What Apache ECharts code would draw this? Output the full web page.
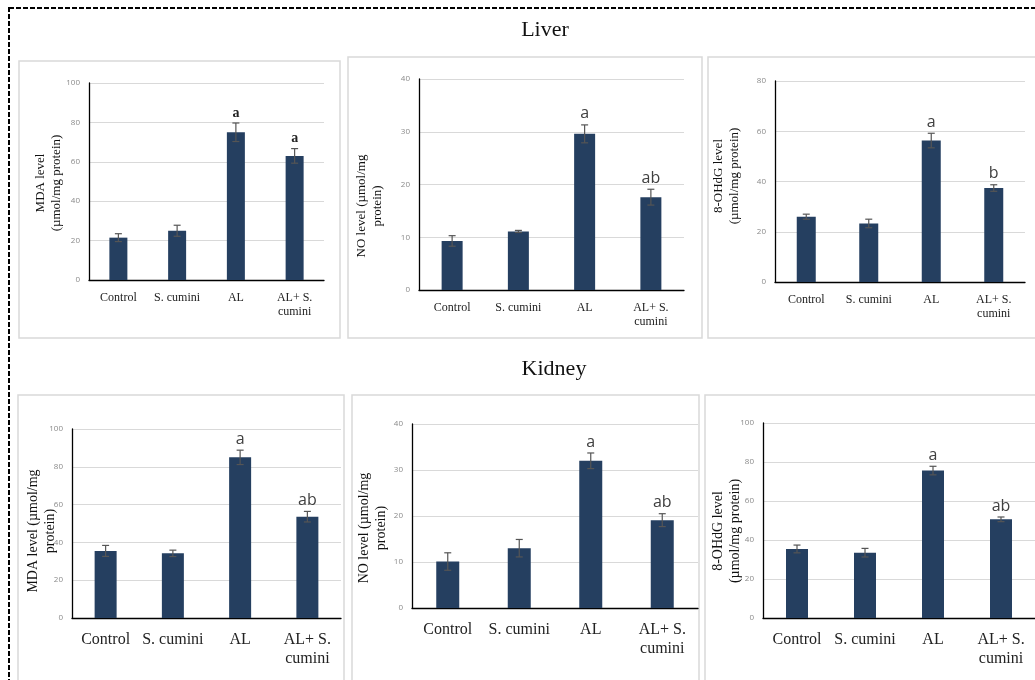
<!DOCTYPE html>
<html><head><meta charset="utf-8">
<script src="https://cdn.jsdelivr.net/npm/echarts@6/dist/echarts.min.js"></script>
<style>html,body{margin:0;padding:0;background:#fff}#c{width:1035px;height:680px}</style>
</head><body><div id="c"></div>
<script>
const categories = ['Control', 'S. cumini', 'AL', 'AL+ S.\ncumini'];

const liverMDA = [21.5, 25, 75, 63];
const liverMDAErr = [2, 2.8, 4.7, 3.7];
const liverMDALetters = ['', '', 'a', 'a'];

const liverNO = [9.3, 11.1, 29.6, 17.6];
const liverNOErr = [1, 0.2, 1.7, 1.5];
const liverNOLetters = ['', '', 'a', 'ab'];

const liverOHdG = [26, 23.3, 56.3, 37.4];
const liverOHdGErr = [1, 1.7, 2.9, 1.3];
const liverOHdGLetters = ['', '', 'a', 'b'];

const kidneyMDA = [35.5, 34.2, 85, 53.6];
const kidneyMDAErr = [2.9, 1.7, 3.8, 2.8];
const kidneyMDALetters = ['', '', 'a', 'ab'];

const kidneyNO = [10.1, 13, 32, 19.1];
const kidneyNOErr = [1.9, 1.9, 1.7, 1.4];
const kidneyNOLetters = ['', '', 'a', 'ab'];

const kidneyOHdG = [35.4, 33.5, 75.6, 50.6];
const kidneyOHdGErr = [2, 2.2, 2.2, 1.2];
const kidneyOHdGLetters = ['', '', 'a', 'ab'];

const yMaxes = [100, 40, 80, 100, 40, 100];
const yIntervals = [20, 10, 20, 20, 10, 20];
const yNames = [
  'MDA level\n(µmol/mg protein)',
  'NO level (µmol/mg\nprotein)',
  '8-OHdG level\n(µmol/mg protein)',
  'MDA level (µmol/mg\nprotein)',
  'NO level (µmol/mg\nprotein)',
  '8-OHdG level\n(µmol/mg protein)'
];
const sectionTitles = ['Liver', 'Kidney'];

const panels = [
  {vals: liverMDA, errs: liverMDAErr, letters: liverMDALetters},
  {vals: liverNO, errs: liverNOErr, letters: liverNOLetters},
  {vals: liverOHdG, errs: liverOHdGErr, letters: liverOHdGLetters},
  {vals: kidneyMDA, errs: kidneyMDAErr, letters: kidneyMDALetters},
  {vals: kidneyNO, errs: kidneyNOErr, letters: kidneyNOLetters},
  {vals: kidneyOHdG, errs: kidneyOHdGErr, letters: kidneyOHdGLetters}
];

// layout (styles/positions)
const grids = [
  {left: 89, top: 83, width: 235, height: 197},
  {left: 419, top: 79, width: 265, height: 211},
  {left: 775, top: 81, width: 250, height: 201},
  {left: 72, top: 429, width: 269, height: 189},
  {left: 412, top: 424, width: 286, height: 184},
  {left: 763, top: 423, width: 282, height: 195}
];
const barWidths = [18, 21, 19, 22, 23, 22];
const catFont = [12, 12, 12, 16, 16, 16];
const catLH = [14, 14, 14, 19, 19, 19];
const catMargin = [11, 11, 11, 12, 12, 12];
const letterFont = [14, 16, 16, 16, 16, 16];
const letterBold = [true, false, false, false, false, false];
const nameFont = [13, 13, 13, 14, 14, 14];
const namePos = [[49, 183], [370, 206], [727, 176], [42, 531], [373, 528], [727, 531]];
const boxes = [
  [19, 61, 321, 277], [348, 57, 354, 281], [708, 57, 400, 281],
  [18, 395, 326, 400], [352, 395, 347, 400], [705, 395, 400, 400]
];
const BAR = '#253f60';
const SERIF = '"Liberation Serif", "DejaVu Serif", serif';
const SANS = '"Open Sans", "Noto Sans", sans-serif';

const chart = echarts.init(document.getElementById('c'), null, {renderer: 'canvas'});

const xAxis = [], yAxis = [], series = [];
panels.forEach((p, k) => {
  xAxis.push({
    type: 'category', gridIndex: k, data: categories,
    axisLine: {lineStyle: {color: '#000', width: 1.3}},
    axisTick: {show: false},
    axisLabel: {fontFamily: SERIF, fontSize: catFont[k], color: '#222', margin: catMargin[k],
      lineHeight: catLH[k], interval: 0}
  });
  yAxis.push({
    type: 'value', gridIndex: k, min: 0, max: yMaxes[k], interval: yIntervals[k],
    axisLine: {show: true, lineStyle: {color: '#000', width: 1.3}},
    axisTick: {show: false},
    splitLine: {lineStyle: {color: '#d9d9d9', width: 1}},
    axisLabel: {fontFamily: SANS, fontSize: 8, color: '#8a8a8a', margin: 9}
  });
  series.push({
    type: 'bar', xAxisIndex: k, yAxisIndex: k, data: p.vals,
    barWidth: barWidths[k], itemStyle: {color: BAR}, silent: true, animation: false
  });
  series.push({
    type: 'custom', xAxisIndex: k, yAxisIndex: k, animation: false, silent: true, z: 5,
    data: p.vals.map((v, i) => [i, v, p.errs[i]]),
    renderItem: function (params, api) {
      const i = api.value(0), v = api.value(1), e = api.value(2);
      const hi = api.coord([i, v + e]);
      const lo = api.coord([i, v - e]);
      const cap = 3.5;
      const st = {stroke: '#555', lineWidth: 1.2};
      const children = [
        {type: 'line', shape: {x1: hi[0], y1: hi[1], x2: lo[0], y2: lo[1]}, style: st},
        {type: 'line', shape: {x1: hi[0] - cap, y1: hi[1], x2: hi[0] + cap, y2: hi[1]}, style: st},
        {type: 'line', shape: {x1: lo[0] - cap, y1: lo[1], x2: lo[0] + cap, y2: lo[1]}, style: st}
      ];
      const letter = p.letters[params.dataIndex];
      if (letter) {
        children.push({
          type: 'text', x: hi[0], y: hi[1] - 3,
          style: {text: letter, align: 'center', verticalAlign: 'bottom',
            font: (letterBold[k] ? 'bold ' : '') + letterFont[k] + 'px ' + (letterBold[k] ? SERIF : SANS),
            fill: letterBold[k] ? '#222' : '#404040'}
        });
      }
      return {type: 'group', children: children};
    }
  });
});

const graphic = [];
graphic.push({type: 'rect', shape: {x: 9, y: 8, width: 1200, height: 1000},
  style: {fill: 'none', stroke: '#000', lineWidth: 2, lineDash: [5, 2]}, z: 0});
boxes.forEach(b => graphic.push({type: 'rect', shape: {x: b[0], y: b[1], width: b[2], height: b[3]},
  style: {fill: 'none', stroke: '#d9d9d9', lineWidth: 1.5}, z: 0}));
graphic.push({type: 'text', x: 545, y: 30, style: {text: sectionTitles[0], align: 'center', verticalAlign: 'middle',
  font: '22px ' + SERIF, fill: '#111'}});
graphic.push({type: 'text', x: 554, y: 369, style: {text: sectionTitles[1], align: 'center', verticalAlign: 'middle',
  font: '22px ' + SERIF, fill: '#111'}});
yNames.forEach((n, k) => graphic.push({type: 'text', x: namePos[k][0], y: namePos[k][1], rotation: Math.PI / 2,
  style: {text: n, align: 'center', verticalAlign: 'middle', font: nameFont[k] + 'px ' + SERIF, fill: '#111',
    lineHeight: nameFont[k] + 3}, z: 10}));

chart.setOption({
  animation: false,
  backgroundColor: '#fff',
  grid: grids,
  xAxis: xAxis,
  yAxis: yAxis,
  series: series,
  graphic: graphic
});
</script></body></html>
